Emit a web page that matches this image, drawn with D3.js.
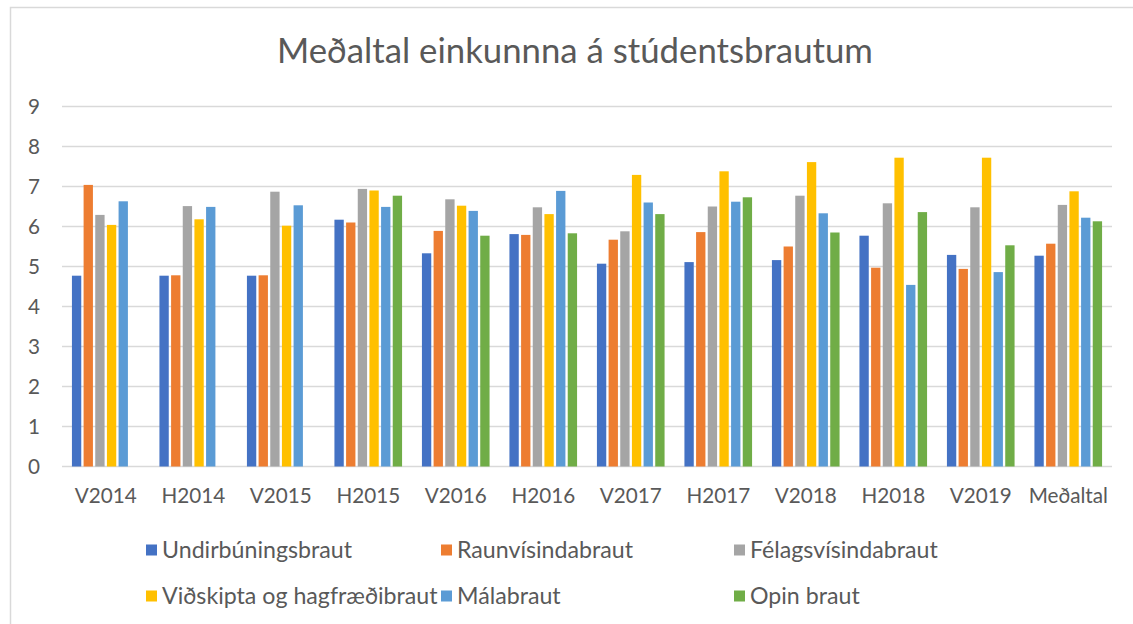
<!DOCTYPE html>
<html><head><meta charset="utf-8">
<script src="https://cdn.jsdelivr.net/npm/d3@7"></script>
<style>body{margin:0;background:#fff}svg{display:block}text{font-family:Lato,"Open Sans",sans-serif;fill:#595959}</style>
</head><body><svg id="c" width="1133" height="624"></svg>
<script>
const categories = ["V2014","H2014","V2015","H2015","V2016","H2016","V2017","H2017","V2018","H2018","V2019","Meðaltal"];
const seriesNames = ["Undirbúningsbraut","Raunvísindabraut","Félagsvísindabraut","Viðskipta og hagfræðibraut","Málabraut","Opin braut"];
const colors = ["#4472C4","#ED7D31","#A5A5A5","#FFC000","#5B9BD5","#70AD47"];
const undirbuningsbraut = [4.77,4.77,4.77,6.17,5.33,5.81,5.07,5.11,5.16,5.77,5.29,5.27];
const raunvisindabraut  = [7.04,4.78,4.78,6.10,5.89,5.79,5.67,5.86,5.50,4.97,4.94,5.57];
const felagsvisindabraut= [6.29,6.51,6.87,6.94,6.68,6.48,5.88,6.50,6.77,6.58,6.48,6.54];
const vidskiptabraut    = [6.04,6.18,6.02,6.90,6.52,6.31,7.29,7.38,7.61,7.72,7.72,6.88];
const malabraut         = [6.63,6.49,6.53,6.49,6.39,6.89,6.60,6.62,6.33,4.54,4.86,6.22];
const opinBraut         = [null,null,null,6.77,5.77,5.83,6.31,6.73,5.85,6.36,5.53,6.13];
const yTicks = [0,1,2,3,4,5,6,7,8,9];
const title = "Meðaltal einkunnna á stúdentsbrautum";

const seriesValues = [undirbuningsbraut,raunvisindabraut,felagsvisindabraut,vidskiptabraut,malabraut,opinBraut];
const svg = d3.select("#c");

function fit(sel, target, base){
  const w = sel.node().getComputedTextLength();
  sel.style("font-size", (base*target/w).toFixed(2)+"px");
}

// chart border
svg.append("rect").attr("x",10.5).attr("y",7.5).attr("width",1140).attr("height",640)
  .attr("fill","none").attr("stroke","#D9D9D9").attr("stroke-width",1.5);

const x0 = d3.scaleBand().domain(categories).range([62,1112]).paddingInner(0.227).paddingOuter(0.1135);
const x1 = d3.scaleBand().domain(seriesNames).range([0,x0.bandwidth()]).paddingInner(0.2);
const y = d3.scaleLinear().domain([0,9]).range([466.5,106.5]);

// gridlines
svg.append("g").selectAll("line").data(yTicks).join("line")
  .attr("x1",62).attr("x2",1112).attr("y1",d=>y(d)).attr("y2",d=>y(d))
  .attr("stroke","#D9D9D9").attr("stroke-width",1.3);

// y labels
const base = 20;
const yl = svg.append("g").selectAll("text").data(yTicks).join("text")
  .attr("x",40).attr("y",d=>y(d)).attr("dy","0.36em").attr("text-anchor","end")
  .style("font-size","20px").text(d=>d);

// bars
const groups = svg.append("g").selectAll("g").data(categories).join("g")
  .attr("transform",d=>`translate(${x0(d)},0)`);
groups.selectAll("rect").data((c,i)=>seriesNames.map((s,j)=>({s,j,v:seriesValues[j][i]})).filter(d=>d.v!=null))
  .join("rect")
  .attr("x",d=>x1(d.s)).attr("width",x1.bandwidth())
  .attr("y",d=>y(d.v)).attr("height",d=>y(0)-y(d.v))
  .attr("fill",d=>colors[d.j]);

// x labels
const xl = svg.append("g").selectAll("text").data(categories).join("text")
  .attr("x",d=>x0(d)+x0.bandwidth()/2).attr("y",503).attr("text-anchor","middle")
  .style("font-size","20px").text(d=>d);
fit(xl.filter((d,i)=>i===0), 62, 20);
const fs = xl.filter((d,i)=>i===0).style("font-size");
xl.style("font-size",fs); yl.style("font-size",fs);

// title
const t = svg.append("text").attr("x",575).attr("y",63).attr("text-anchor","middle")
  .style("font-size","34px").text(title);
fit(t, 596, 34);

// legend
const legX = [146,441,734], legY = [550,596];
const leg = svg.append("g").selectAll("g").data(seriesNames).join("g")
  .attr("transform",(d,i)=>`translate(${legX[i%3]},${legY[Math.floor(i/3)]})`);
leg.append("rect").attr("x",0).attr("y",-5.5).attr("width",11).attr("height",11).attr("fill",(d,i)=>colors[i]);
const lt = leg.append("text").attr("x",16).attr("y",0).attr("dy","0.36em").style("font-size","20px").text(d=>d);
fit(lt.filter((d,i)=>i===0), 190, 20);
lt.style("font-size", lt.filter((d,i)=>i===0).style("font-size"));
</script></body></html>
